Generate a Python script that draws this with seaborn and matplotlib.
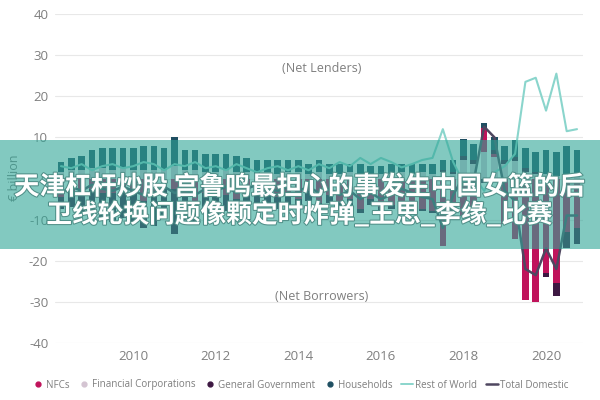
import matplotlib
matplotlib.use("Agg")
import matplotlib.pyplot as plt
import matplotlib.patheffects as pe
from matplotlib.patches import Rectangle
from matplotlib.lines import Line2D
import numpy as np
import pandas as pd
import seaborn as sns

# ---- data (quarterly, 2008Q2 - 2020Q4, EUR billion) ----
quarters = ["2008Q2", "2008Q3", "2008Q4"] + [f"{y}Q{q}" for y in range(2009, 2021) for q in range(1, 5)]

households = [2.5, 3.0, 3.5,
              4.5, 5.0, 5.5, 5.0,
              5.5, 6.0, 6.0, 5.5,
              7.0, 5.0, 5.0, 4.5,
              4.5, 4.0, 4.0, 3.5,
              3.5, 3.0, 3.5, 3.0,
              3.0, 2.5, 3.0, 2.5,
              2.5, 2.0, 2.5, 2.0,
              2.0, 2.5, 2.0, 2.5,
              2.0, 2.5, 2.5, 3.0,
              4.0, 4.0, 1.3, 3.0,
              3.5, 4.0, 5.0, 5.0,
              6.0, 6.0, 7.0, 6.0]
financial = [1.5, 2.0, 2.0,
             2.5, 2.5, 2.0, 2.5,
             2.0, 2.0, 2.0, 2.0,
             3.0, 2.0, 2.0, 1.5,
             1.5, 2.0, 1.5, 1.5,
             1.0, 1.5, 1.0, 1.5,
             1.5, 1.0, 1.5, 1.0,
             1.0, 1.5, 1.0, 1.0,
             1.0, 1.0, 1.5, 1.0,
             1.5, 1.0, 1.5, 1.0,
             4.5, 3.5, 6.5, 5.2,
             3.5, 4.3, 1.5, 1.0,
             1.0, 0.5, 1.0, 1.0]
government = [-3.0, -4.0, -5.0,
              -6.0, -6.5, -7.0, -7.0,
              -7.0, -6.5, -7.5, -7.0,
              -11.0, -6.0, -5.5, -5.0,
              -4.5, -4.0, -4.0, -4.5,
              -3.5, -3.5, -3.0, -3.0,
              -2.5, -2.5, -2.0, -2.0,
              -1.5, -1.5, -1.0, -1.5,
              -1.0, -1.0, -0.5, -0.5,
              -0.5, -0.5, 0.5, 0.5,
              1.0, 1.0, -1.0, 1.0,
              1.0, 1.0, 1.0, 0.5,
              -1.0, -3.0, -4.0, -4.0]
nfcs = [-4.5, -3.0, -3.5,
        -2.5, -3.5, -3.5, -2.5,
        -3.5, -5.5, -4.0, -2.5,
        -2.5, -4.0, -5.5, -3.5,
        -4.5, -4.0, -5.0, -3.0,
        -2.5, -3.5, -4.5, -3.5,
        -5.0, -3.0, -6.0, -4.0,
        -6.0, -5.0, -7.5, -5.0,
        -7.0, -6.5, -5.5, -6.5,
        -7.5, -8.0, -16.5, -8.5,
        -9.0, -9.0, 5.8, 0.8,
        -11.0, -14.8, -29.5, -30.0,
        -23.0, -25.5, -13.0, -12.0]
rest_of_world = [3.0, 2.5, 3.5,
                 2.0, 3.0, 3.5, 2.5,
                 3.0, 4.0, 3.5, 2.0,
                 3.5, 3.0, 4.0, 2.5,
                 3.0, 2.0, 3.5, 2.5,
                 1.5, 2.5, 3.0, 2.0,
                 3.0, 2.0, 3.5, 2.5,
                 4.0, 3.0, 5.0, 3.5,
                 5.0, 4.0, 2.7, 3.5,
                 4.5, 5.0, 12.0, 4.0,
                 -1.0, 0.5, -3.0, 1.5,
                 3.0, 6.0, 23.5, 24.5,
                 16.5, 25.5, 11.5, 12.0]
total_domestic = [-3.5, -2.0, -3.0,
                  -1.5, -2.5, -3.0, -2.0,
                  -3.0, -4.0, -3.5, -2.0,
                  -3.5, -3.0, -4.0, -2.5,
                  -3.0, -2.0, -3.5, -2.5,
                  -1.5, -2.5, -3.0, -2.0,
                  -3.0, -2.0, -3.5, -2.5,
                  -4.0, -3.0, -5.0, -3.5,
                  -5.0, -4.0, -2.5, -3.5,
                  -4.5, -5.0, -12.0, -4.0,
                  0.5, -0.5, 12.6, 10.0,
                  -3.0, -5.5, -22.0, -23.5,
                  -17.0, -22.0, -9.0, -9.0]

year_ticks = [2010, 2012, 2014, 2016, 2018, 2020]
y_ticks = [-40, -30, -20, -10, 0, 10, 20, 30, 40]

title_line1 = "天津杠杆炒股 宫鲁鸣最担心的事发生中国女篮的后"
title_line2 = "卫线轮换问题像颗定时炸弹_王思_李缘_比赛"

# ---- styling ----
c_nfc = "#c0135b"
c_fc = "#d4c4d2"
c_gg = "#3d1842"
c_hh = "#1f4f62"
c_row = "#8ad5cc"
c_tot = "#4f4760"
grey = "#7f7f7f"

sns.set_theme(style="white")
plt.rcParams["font.family"] = ["Open Sans", "DejaVu Sans"]

fig = plt.figure(figsize=(6, 4), dpi=100)
ax = fig.add_axes([0.092, 0.1425, 0.88, 0.8225])

t = np.array([int(q[:4]) + (int(q[-1]) - 1) / 4 for q in quarters])
df = pd.DataFrame({"t": t, "NFCs": nfcs, "Financial Corporations": financial,
                   "General Government": government, "Households": households,
                   "Rest of World": rest_of_world, "Total Domestic": total_domestic})

# stacked bars, stacking order outward from zero
stack = [("Financial Corporations", c_fc), ("NFCs", c_nfc),
         ("General Government", c_gg), ("Households", c_hh)]
pos = np.zeros(len(df))
neg = np.zeros(len(df))
bw = 0.16
for name, col in stack:
    v = df[name].to_numpy()
    bottom = np.where(v >= 0, pos, neg)
    ax.bar(df["t"], v, width=bw, bottom=bottom, color=col, linewidth=0, zorder=2)
    pos = pos + np.where(v >= 0, v, 0)
    neg = neg + np.where(v < 0, v, 0)

sns.lineplot(data=df, x="t", y="Rest of World", color=c_row, linewidth=1.5, ax=ax, zorder=3)
sns.lineplot(data=df, x="t", y="Total Domestic", color=c_tot, linewidth=1.8, ax=ax, zorder=4)

ax.set_xlim(2008.11, 2020.9)
ax.set_ylim(-40, 40)
ax.set_yticks(y_ticks)
ax.set_yticklabels([str(v) for v in y_ticks])
ax.set_xticks(year_ticks)
ax.set_xticklabels([str(v) for v in year_ticks])
ax.tick_params(axis="both", labelsize=9.5, colors=grey, length=0, pad=5)
ax.yaxis.grid(True, color="#e8e8e8", linewidth=0.8, zorder=0)
ax.xaxis.grid(False)
for s in ax.spines.values():
    s.set_visible(False)
ax.set_xlabel("")
ax.set_ylabel("")
fig.text(15 / 600, 1 - 178 / 400, "€ billion", rotation=90, ha="center", va="center",
         fontsize=9, color=grey)

fig.text(322 / 600, 1 - 68 / 400, "(Net Lenders)", ha="center", va="center", fontsize=9, color=grey)
fig.text(322 / 600, 1 - 296 / 400, "(Net Borrowers)", ha="center", va="center", fontsize=9, color=grey)

handles = [
    Line2D([], [], marker="o", linestyle="", color=c_nfc, markersize=3.5),
    Line2D([], [], marker="o", linestyle="", color=c_fc, markersize=3.5),
    Line2D([], [], marker="o", linestyle="", color=c_gg, markersize=3.5),
    Line2D([], [], marker="o", linestyle="", color=c_hh, markersize=3.5),
    Line2D([], [], color=c_row, linewidth=1.4),
    Line2D([], [], color=c_tot, linewidth=1.8),
]
labels = ["NFCs", "Financial Corporations", "General Government", "Households",
          "Rest of World", "Total Domestic"]
leg = fig.legend(handles, labels, loc="center", bbox_to_anchor=(0.5, 1 - 385 / 400), ncol=6,
                 frameon=False, fontsize=7.1, handlelength=1.2, handletextpad=0.2,
                 columnspacing=0.9, borderaxespad=0)
for txt in leg.get_texts():
    txt.set_color(grey)

# overlay band with caption
fig.patches.append(Rectangle((0, 1 - 249 / 400), 1, 109 / 400, transform=fig.transFigure,
                             facecolor="#2fa596", alpha=0.6, edgecolor="none", zorder=10))
cjk = ["Noto Sans CJK SC", "DejaVu Sans"]
for txt, yy in [(title_line1, 187), (title_line2, 215)]:
    fig.text(0.5, 1 - yy / 400, txt, ha="center", va="center", fontsize=18.5, fontweight="bold",
             color="white", family=cjk, zorder=11,
             path_effects=[pe.withStroke(linewidth=1.5, foreground="#4f8f88")])

fig.savefig("out.png", dpi=100)
